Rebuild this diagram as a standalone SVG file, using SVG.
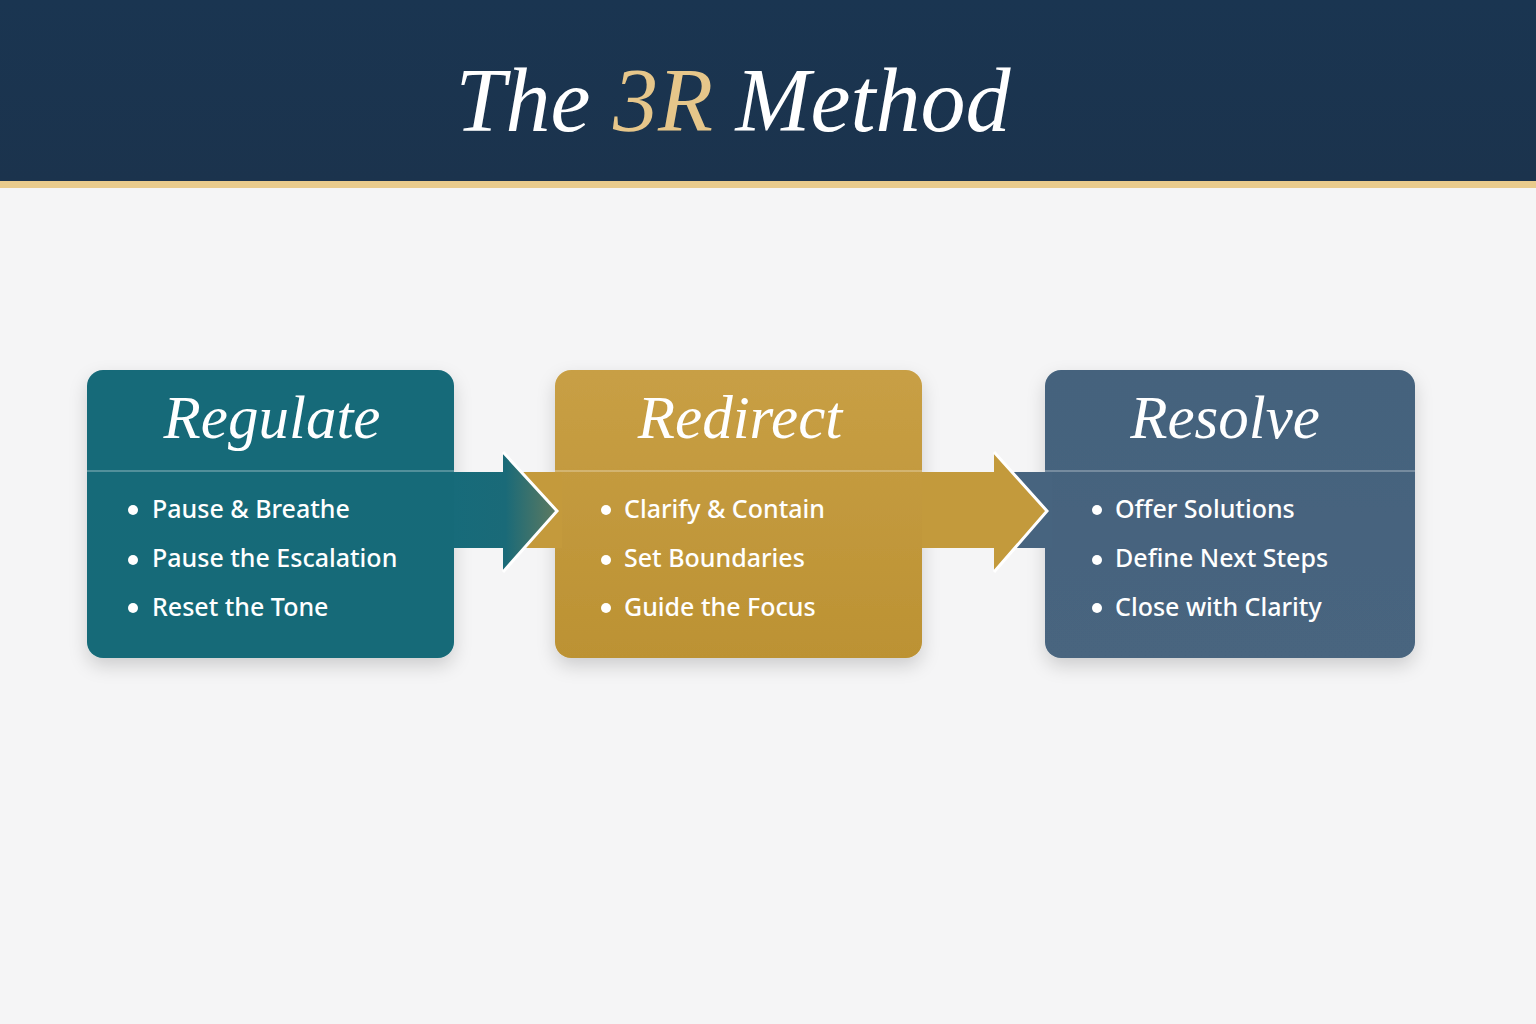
<svg xmlns="http://www.w3.org/2000/svg" width="1536" height="1024" viewBox="0 0 1536 1024">
<defs>
<style>
.title{font-family:"Liberation Serif","DejaVu Serif",serif;font-style:italic;font-size:90px;fill:#ffffff}
.btitle{font-family:"Liberation Serif","DejaVu Serif",serif;font-style:italic;font-size:61px;fill:#ffffff;text-anchor:middle}
.item{font-family:"Noto Sans","Open Sans",sans-serif;font-size:25px;font-weight:500;fill:#ffffff}
.div{stroke:#ffffff;stroke-opacity:0.35;stroke-width:1.5}
.head{fill:none;stroke:#ffffff;stroke-width:3;stroke-linejoin:miter}
</style>
<filter id="sh" x="-10%" y="-10%" width="120%" height="130%">
<feDropShadow dx="0" dy="8" stdDeviation="9" flood-color="#000" flood-opacity="0.16"/>
</filter>
<linearGradient id="gA" x1="0" y1="0" x2="1" y2="0">
<stop offset="0" stop-color="#176B7A"/>
<stop offset="0.5" stop-color="#1A6A78"/>
<stop offset="1" stop-color="#5E7A60"/>
</linearGradient>
<linearGradient id="gTeal" x1="0" y1="0" x2="0" y2="1">
<stop offset="0" stop-color="#166A79"/>
<stop offset="1" stop-color="#136B78"/>
</linearGradient>
<linearGradient id="gGold" x1="0" y1="0" x2="0" y2="1">
<stop offset="0" stop-color="#C89F45"/>
<stop offset="1" stop-color="#BC9233"/>
</linearGradient>
<linearGradient id="gBlue" x1="0" y1="0" x2="0" y2="1">
<stop offset="0" stop-color="#44627D"/>
<stop offset="1" stop-color="#48657F"/>
</linearGradient>
<linearGradient id="gHdr" x1="0" y1="0" x2="0" y2="1">
<stop offset="0" stop-color="#1A3551"/>
<stop offset="1" stop-color="#1B334D"/>
</linearGradient>
</defs>
<rect x="0" y="0" width="1536" height="1024" fill="#F5F5F6"/>
<g id="header">
<rect x="0" y="0" width="1536" height="181" fill="url(#gHdr)"/>
<rect x="0" y="181" width="1536" height="7" fill="#E9CB8C"/>
<text class="title" x="733" y="131" text-anchor="middle">The <tspan fill="#E6C68A">3R</tspan> Method</text>
</g>
<g id="node-regulate">
<rect x="87" y="370" width="367" height="288" rx="16" fill="url(#gTeal)" filter="url(#sh)"/>
<line class="div" x1="87" y1="471" x2="454" y2="471"/>
<text class="btitle" x="272" y="438">Regulate</text>
<circle cx="133" cy="510" r="5" fill="#fff"/>
<text class="item" x="152" y="518">Pause &amp; Breathe</text>
<circle cx="133" cy="560" r="5" fill="#fff"/>
<text class="item" x="152" y="567">Pause the Escalation</text>
<circle cx="133" cy="608" r="5" fill="#fff"/>
<text class="item" x="152" y="616">Reset the Tone</text>
</g>
<g id="node-redirect">
<rect x="555" y="370" width="367" height="288" rx="16" fill="url(#gGold)" filter="url(#sh)"/>
<line class="div" x1="555" y1="471" x2="922" y2="471"/>
<text class="btitle" x="740" y="438">Redirect</text>
<circle cx="606" cy="510" r="5" fill="#fff"/>
<text class="item" x="624" y="518">Clarify &amp; Contain</text>
<circle cx="606" cy="560" r="5" fill="#fff"/>
<text class="item" x="624" y="567">Set Boundaries</text>
<circle cx="606" cy="608" r="5" fill="#fff"/>
<text class="item" x="624" y="616">Guide the Focus</text>
</g>
<g id="node-resolve">
<rect x="1045" y="370" width="370" height="288" rx="16" fill="url(#gBlue)" filter="url(#sh)"/>
<line class="div" x1="1045" y1="471" x2="1415" y2="471"/>
<text class="btitle" x="1225" y="438">Resolve</text>
<circle cx="1097" cy="510" r="5" fill="#fff"/>
<text class="item" x="1115" y="518">Offer Solutions</text>
<circle cx="1097" cy="560" r="5" fill="#fff"/>
<text class="item" x="1115" y="567">Define Next Steps</text>
<circle cx="1097" cy="608" r="5" fill="#fff"/>
<text class="item" x="1115" y="616">Close with Clarity</text>
</g>
<g id="connectors">
<rect x="522" y="472" width="40" height="76" fill="#C49A3C"/>
<rect x="1012" y="472" width="40" height="76" fill="#47647F"/>
<path d="M454,472 L503,472 L503,452 L557,511 L503,572 L503,548 L454,548 Z" fill="url(#gA)"/>
<path class="head" d="M503,452 L557,511 L503,572"/>
<path d="M922,472 L994,472 L994,452 L1047,511 L994,572 L994,548 L922,548 Z" fill="#C39A3C"/>
<path class="head" d="M994,452 L1047,511 L994,572"/>
</g>
</svg>
